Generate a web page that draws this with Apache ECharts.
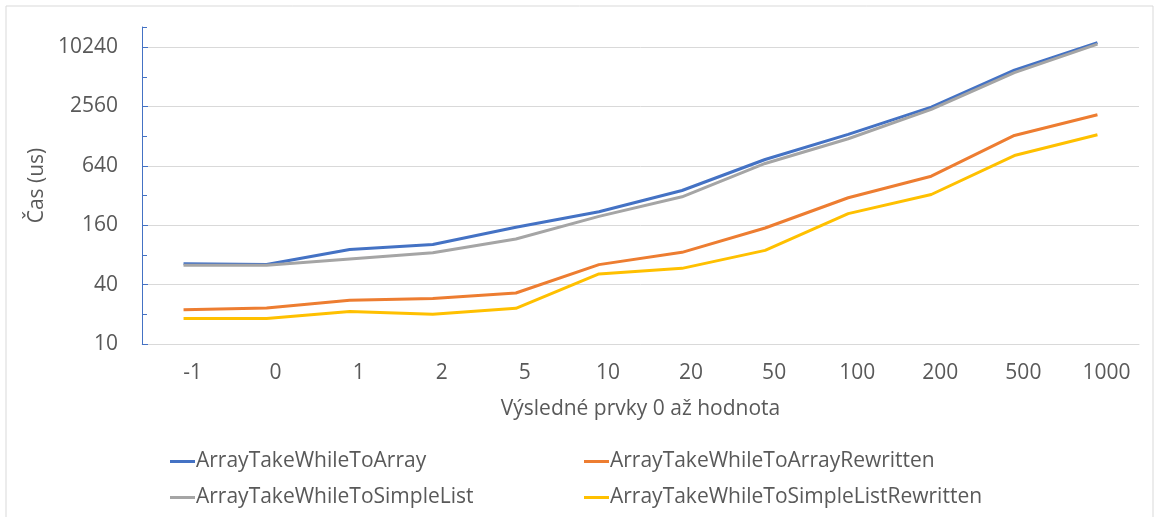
<!DOCTYPE html>
<html>
<head>
<meta charset="utf-8">
<script src="https://cdn.jsdelivr.net/npm/echarts@6/dist/echarts.min.js"></script>
<style>
  html, body { margin: 0; padding: 0; background: #fff; }
  #chart { width: 1154px; height: 517px; }
</style>
</head>
<body>
<div id="chart"></div>
<script>
// kategorie na ose X
const categories = ['-1', '0', '1', '2', '5', '10', '20', '50', '100', '200', '500', '1000']

// naměřené časy (us)
const toArray = [65, 64, 91, 102, 153, 219, 360, 743, 1334, 2525, 5990, 11370]
const toArrayRewritten = [22.3, 23.2, 27.7, 29, 32.9, 63.8, 85, 150, 304, 503, 1302, 2113]
const toSimpleList = [62.8, 62.8, 72.9, 84, 116, 197, 311, 677, 1205, 2390, 5640, 11000]
const toSimpleListRewritten = [18.1, 18.1, 21.3, 20, 23, 51.4, 58.5, 89, 210, 328, 815, 1323]

// popisky osy Y (logaritmus o základu 4)
const yTicks = [10, 40, 160, 640, 2560, 10240]
const yMinorTicks = [20, 80, 320, 1280, 5120, 16384]

const names = [
  'ArrayTakeWhileToArray',
  'ArrayTakeWhileToArrayRewritten',
  'ArrayTakeWhileToSimpleList',
  'ArrayTakeWhileToSimpleListRewritten'
]
const colors = ['#4472c4', '#ed7d31', '#a5a5a5', '#ffc000']

const font = "'Open Sans', 'Noto Sans', sans-serif"
const textColor = '#595959'
const fontSize = 21

const chart = echarts.init(document.getElementById('chart'))

function lineSeries(i, data) {
  return {
    name: names[i],
    type: 'line',
    data: data,
    symbol: 'none',
    lineStyle: { color: colors[i], width: 3 },
    itemStyle: { color: colors[i] }
  }
}

// legenda ve dvou sloupcich, kazda polozka zvlast
function legendItem(i, left, top) {
  return {
    data: [names[i]],
    left: left,
    top: top,
    padding: 0,
    itemWidth: 25,
    itemHeight: 3,
    icon: 'rect',
    textStyle: { fontFamily: font, fontSize: fontSize, color: textColor, padding: [0, 0, 0, -4] }
  }
}

const yBase = {
  type: 'log',
  logBase: 4,
  min: 10,
  max: 16384,
  position: 'left'
}

chart.setOption({
  animation: false,
  backgroundColor: '#fff',
  graphic: [{
    type: 'rect',
    shape: { x: 6, y: 6, width: 1147, height: 520 },
    style: { fill: 'none', stroke: '#d9d9d9', lineWidth: 1 },
    silent: true
  }],
  grid: { left: 142, right: 15, top: 27, bottom: 173 },
  legend: [
    legendItem(0, 170, 451),
    legendItem(1, 584, 451),
    legendItem(2, 170, 487),
    legendItem(3, 584, 487)
  ],
  xAxis: {
    type: 'category',
    data: categories,
    boundaryGap: true,
    axisLine: { lineStyle: { color: '#d9d9d9', width: 1 } },
    axisTick: { show: false },
    axisLabel: {
      fontFamily: font, fontSize: fontSize, color: textColor,
      margin: 19, padding: [0, 0, 0, 18]
    },
    name: 'Výsledné prvky 0 až hodnota',
    nameLocation: 'middle',
    nameGap: 55,
    nameTextStyle: { fontFamily: font, fontSize: fontSize, color: textColor }
  },
  yAxis: [
    Object.assign({}, yBase, {
      axisLine: { show: true, lineStyle: { color: '#4472c4', width: 1 } },
      axisTick: {
        show: true, inside: true, length: 6,
        customValues: yTicks,
        lineStyle: { color: '#4472c4' }
      },
      axisLabel: {
        customValues: yTicks,
        formatter: function (v) { return String(Math.round(v)) },
        fontFamily: font, fontSize: fontSize, color: textColor, margin: 24
      },
      splitLine: { show: true, lineStyle: { color: '#d9d9d9', width: 1 } },
      name: 'Čas (us)',
      nameLocation: 'middle',
      nameGap: 90,
      nameTextStyle: { fontFamily: font, fontSize: fontSize, color: textColor }
    }),
    Object.assign({}, yBase, {
      offset: 0,
      axisLine: { show: false },
      axisTick: {
        show: true, inside: true, length: 5,
        customValues: yMinorTicks,
        lineStyle: { color: '#4472c4' }
      },
      axisLabel: { show: false },
      splitLine: { show: false }
    })
  ],
  series: [
    lineSeries(0, toArray),
    lineSeries(1, toArrayRewritten),
    lineSeries(2, toSimpleList),
    lineSeries(3, toSimpleListRewritten)
  ]
})
</script>
</body>
</html>
